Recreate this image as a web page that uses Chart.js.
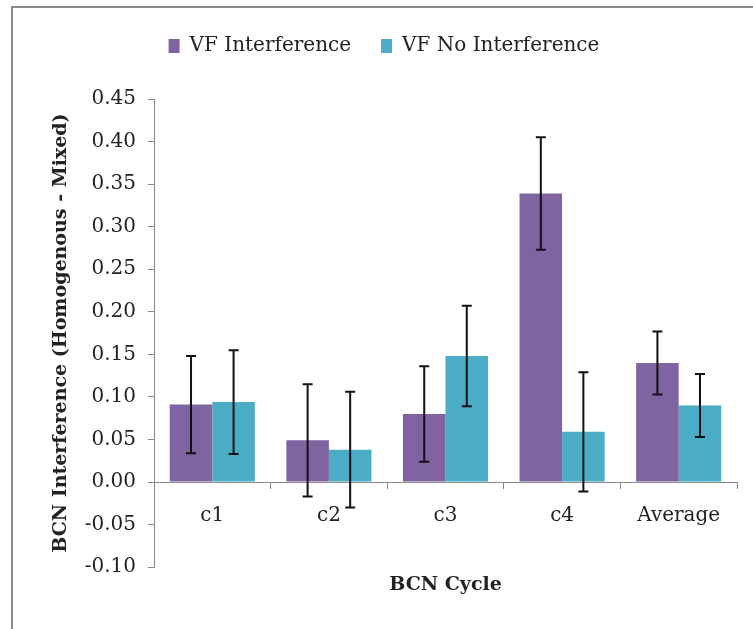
<!DOCTYPE html>
<html>
<head>
<meta charset="utf-8">
<script src="https://cdn.jsdelivr.net/npm/chart.js@4"></script>
<style>
  html, body { margin: 0; padding: 0; background: #fff; overflow: hidden; }
  #wrap { position: relative; width: 753px; height: 629px; overflow: hidden; }
  #frame { position: absolute; left: 11px; top: 6px; width: 800px; height: 700px; border-left: 2px solid #8a8a8a; border-top: 2px solid #8a8a8a; }
  canvas { position: absolute; left: 0; top: 0; }
</style>
</head>
<body>
<div id="wrap">
  <div id="frame"></div>
  <canvas id="chart" width="753" height="629"></canvas>
</div>
<script>
const categories = ["c1", "c2", "c3", "c4", "Average"];
const interference = [0.091, 0.049, 0.080, 0.339, 0.140];
const interferenceErr = [0.057, 0.066, 0.056, 0.066, 0.037];
const noInterference = [0.094, 0.038, 0.148, 0.059, 0.090];
const noInterferenceErr = [0.061, 0.068, 0.059, 0.070, 0.037];

const FONT = "'DejaVu Serif', serif";

// error bars drawn from each bar's position and the y scale
const errorBars = {
  id: "errorBars",
  afterDatasetsDraw(chart) {
    const ctx = chart.ctx;
    const y = chart.scales.y;
    chart.data.datasets.forEach((ds, i) => {
      const meta = chart.getDatasetMeta(i);
      meta.data.forEach((bar, j) => {
        const v = ds.data[j], e = ds.errors[j];
        const top = y.getPixelForValue(v + e);
        const bot = y.getPixelForValue(v - e);
        ctx.save();
        ctx.strokeStyle = "#111";
        ctx.lineWidth = 2;
        ctx.beginPath();
        ctx.moveTo(bar.x, top); ctx.lineTo(bar.x, bot);
        ctx.moveTo(bar.x - 5, top); ctx.lineTo(bar.x + 5, top);
        ctx.moveTo(bar.x - 5, bot); ctx.lineTo(bar.x + 5, bot);
        ctx.stroke();
        ctx.restore();
      });
    });
  }
};

// extra room under the legend
const legendGap = {
  id: "legendGap",
  beforeInit(chart) {
    const fit = chart.legend.fit;
    chart.legend.fit = function () {
      fit.call(this);
      this.height += 33;
    };
  }
};

new Chart(document.getElementById("chart"), {
  type: "bar",
  data: {
    labels: categories,
    datasets: [
      { label: "VF Interference", data: interference, errors: interferenceErr, backgroundColor: "#8064A2" },
      { label: "VF No Interference", data: noInterference, errors: noInterferenceErr, backgroundColor: "#4BACC6" }
    ]
  },
  options: {
    responsive: false,
    animation: false,
    categoryPercentage: 0.73,
    barPercentage: 1.0,
    layout: { padding: { left: 31, right: 16, top: 6, bottom: 33 } },
    plugins: {
      tooltip: { enabled: false },
      legend: {
        position: "top",
        labels: {
          font: { family: FONT, size: 20 },
          color: "#222",
          boxWidth: 11,
          boxHeight: 14,
          padding: 30
        }
      },
      title: {
        display: true,
        position: "bottom",
        fullSize: false,
        text: "BCN Cycle",
        color: "#222",
        font: { family: FONT, size: 19, weight: "bold" },
        padding: { top: 6, bottom: 0 }
      }
    },
    scales: {
      x: {
        position: { y: 0 },
        offset: true,
        grid: { display: true, drawOnChartArea: false, offset: true, tickLength: 6, color: "#8a8a8a" },
        border: { color: "#8a8a8a", width: 1 },
        ticks: { font: { family: FONT, size: 20 }, color: "#222", padding: 16 }
      },
      y: {
        min: -0.1,
        max: 0.45,
        ticks: {
          stepSize: 0.05,
          font: { family: FONT, size: 20 },
          color: "#222",
          padding: 12,
          callback: v => v.toFixed(2)
        },
        grid: { display: true, drawOnChartArea: false, tickLength: 6, color: "#8a8a8a" },
        border: { color: "#8a8a8a", width: 1 },
        title: {
          display: true,
          text: "BCN Interference (Homogenous - Mixed)",
          color: "#222",
          font: { family: FONT, size: 19, weight: "bold" },
          padding: { top: 19, bottom: 4 }
        },
        afterFit: scale => { scale.width = 123; }
      }
    }
  },
  plugins: [errorBars, legendGap]
});
</script>
</body>
</html>
